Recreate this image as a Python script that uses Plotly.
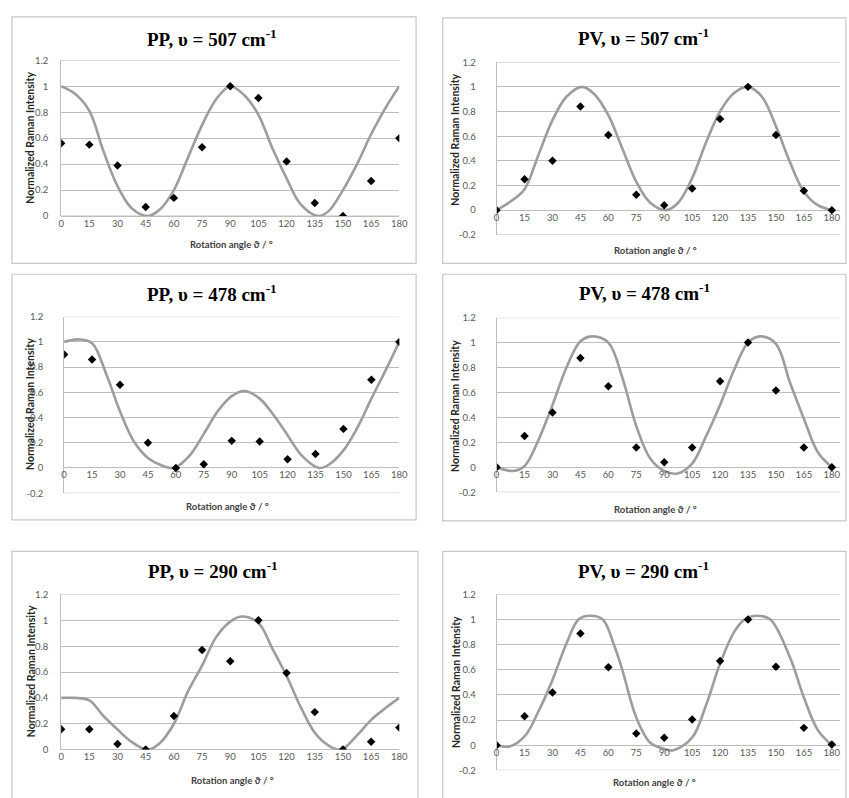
import plotly.graph_objects as go

W, H = 849, 798

# ---------------- data ----------------
angles = [0, 15, 30, 45, 60, 75, 90, 105, 120, 135, 150, 165, 180]
x_tick_labels = ["0", "15", "30", "45", "60", "75", "90", "105", "120", "135", "150", "165", "180"]
y_ticks_pos = [0, 0.2, 0.4, 0.6, 0.8, 1.0, 1.2]
y_labels_pos = ["0", "0.2", "0.4", "0.6", "0.8", "1", "1.2"]
y_ticks_neg = [-0.2, 0, 0.2, 0.4, 0.6, 0.8, 1.0, 1.2]
y_labels_neg = ["-0.2", "0", "0.2", "0.4", "0.6", "0.8", "1", "1.2"]

titles = ["PP, υ = 507 cm", "PV, υ = 507 cm", "PP, υ = 478 cm",
          "PV, υ = 478 cm", "PP, υ = 290 cm", "PV, υ = 290 cm"]

# measured points
pp507_pts = [0.56, 0.55, 0.39, 0.07, 0.14, 0.53, 1.00, 0.91, 0.42, 0.10, 0.00, 0.27, 0.60]
pv507_pts = [0.00, 0.25, 0.40, 0.84, 0.61, 0.125, 0.04, 0.175, 0.74, 1.00, 0.61, 0.157, 0.00]
pp478_pts = [0.90, 0.86, 0.66, 0.20, 0.00, 0.03, 0.215, 0.21, 0.07, 0.11, 0.31, 0.70, 1.00]
pv478_pts = [0.00, 0.25, 0.44, 0.876, 0.65, 0.158, 0.04, 0.158, 0.69, 1.00, 0.615, 0.158, 0.00]
pp290_pts = [0.158, 0.158, 0.043, 0.00, 0.26, 0.77, 0.684, 1.00, 0.593, 0.29, 0.00, 0.06, 0.17]
pv290_pts = [0.00, 0.23, 0.42, 0.89, 0.62, 0.093, 0.06, 0.204, 0.67, 1.00, 0.624, 0.138, 0.005]

# model curves
pp507_cx = [0, 7.5, 15, 22.5, 30, 37.5, 46, 52.5, 60, 67.5, 75, 82.5, 90, 97.5, 105, 112.5, 120, 127.5, 137, 142.5, 150, 157.5, 165, 172.5, 180]
pp507_cy = [1.0, 0.94, 0.81, 0.5, 0.23, 0.06, 0.0, 0.05, 0.2, 0.45, 0.7, 0.9, 1.0, 0.93, 0.78, 0.52, 0.29, 0.09, 0.0, 0.04, 0.2, 0.4, 0.63, 0.83, 1.0]

pv507_cx = [0, 7.5, 15, 22.5, 30, 37.5, 46, 52.5, 60, 67.5, 75, 82.5, 91, 97.5, 105, 112.5, 120, 127.5, 135, 142.5, 150, 157.5, 165, 172.5, 180]
pv507_cy = [0.0, 0.07, 0.17, 0.45, 0.73, 0.92, 1.0, 0.94, 0.77, 0.5, 0.23, 0.06, 0.0, 0.06, 0.26, 0.55, 0.8, 0.95, 1.0, 0.92, 0.68, 0.39, 0.15, 0.04, 0.0]

pp478_cx = [0, 7.5, 15, 22.5, 30, 37.5, 45, 52.5, 59, 67.5, 75, 82.5, 90, 97, 105, 112.5, 120, 127.5, 137, 142.5, 150, 157.5, 165, 172.5, 180]
pp478_cy = [1.0, 1.02, 0.99, 0.75, 0.45, 0.21, 0.08, 0.02, 0.0, 0.1, 0.27, 0.45, 0.57, 0.61, 0.55, 0.42, 0.26, 0.1, 0.0, 0.03, 0.14, 0.32, 0.55, 0.77, 1.0]

pv478_cx = [0, 9, 15, 22.5, 30, 37.5, 45, 51.5, 60, 67.5, 75, 82.5, 90, 97, 105, 112.5, 120, 127.5, 135, 141.5, 150, 157.5, 165, 172.5, 180]
pv478_cy = [0.0, -0.03, 0.01, 0.22, 0.5, 0.8, 1.01, 1.05, 1.0, 0.72, 0.33, 0.07, -0.03, -0.05, 0.03, 0.25, 0.5, 0.78, 1.0, 1.05, 0.99, 0.68, 0.39, 0.12, 0.0]

pp290_cx = [0, 7.5, 15, 22.5, 30, 37.5, 46, 52.5, 60, 67.5, 75, 82.5, 90, 96, 105, 112.5, 120, 127.5, 135, 142.5, 149, 157.5, 165, 172.5, 180]
pp290_cy = [0.40, 0.40, 0.38, 0.26, 0.155, 0.06, 0.0, 0.05, 0.2, 0.45, 0.65, 0.87, 0.99, 1.03, 0.98, 0.78, 0.57, 0.33, 0.13, 0.03, 0.0, 0.11, 0.23, 0.32, 0.40]

pv290_cx = [0, 7, 15, 22.5, 30, 37.5, 44, 50, 57, 63, 67.5, 75, 82.5, 90, 95, 105, 112.5, 120, 127.5, 133, 140, 147, 157.5, 165, 172.5, 180]
pv290_cy = [0.0, -0.01, 0.07, 0.27, 0.52, 0.81, 1.0, 1.03, 1.0, 0.8, 0.6, 0.22, 0.02, -0.03, -0.04, 0.06, 0.32, 0.65, 0.9, 1.0, 1.03, 1.0, 0.7, 0.38, 0.12, 0.0]

points = [pp507_pts, pv507_pts, pp478_pts, pv478_pts, pp290_pts, pv290_pts]
curves = [(pp507_cx, pp507_cy), (pv507_cx, pv507_cy), (pp478_cx, pp478_cy),
          (pv478_cx, pv478_cy), (pp290_cx, pp290_cy), (pv290_cx, pv290_cy)]

# ---------------- layout (window pixels) ----------------
# plot areas: x0, x1, ytop, ybot, px-per-degree, ymin
plots = [
    (59, 402, 55, 213, 343 / 180, 0.0),
    (500.7, 849, 57, 232, 340 / 180, -0.2),
    (62, 402, 315, 494, 340 / 180, -0.2),
    (500.7, 849, 316, 493, 340 / 180, -0.2),
    (59, 402, 596.7, 754, 343 / 180, 0.0),
    (500.7, 849, 596.7, 775, 340 / 180, -0.2),
]
boxes = [(9, 11, 419, 261), (446, 12, 855, 261), (9, 272, 419, 521),
         (446, 272, 855, 522), (9, 553, 421, 805), (446, 553, 855, 805)]
title_pos = [(212.5, 32.5), (650, 31.5), (212, 291.5), (650.5, 290.5), (213, 571.5), (650, 571.5)]
xtitle_pos = [(232, 242), (662, 248), (228, 508), (662, 511), (233, 785), (661, 787)]
ytitle_pos = [(28, 134), (459, 136), (28, 404), (459, 406), (28, 675), (459, 686)]


def px(x):
    return x / W


def py(y):
    return 1 - y / H


def clip(v):
    return max(0.0, min(1.0, v))


GRID = "#bdbdbd"
TICKC = "#595959"
TICKFONT = dict(family="Lato, 'Open Sans', sans-serif", size=9.5, color=TICKC)

fig = go.Figure()
layout = dict(width=W, height=H, margin=dict(l=0, r=0, t=0, b=0),
              paper_bgcolor="white", plot_bgcolor="white", showlegend=False)
shapes = []
annotations = []

for i in range(6):
    k = "" if i == 0 else str(i + 1)
    x0, x1, yt, yb, ppd, ymin = plots[i]
    x1v = min(x1, W)
    xmax = (x1v - x0) / ppd
    ymax = 1.2
    y0px = yb - (0 - ymin) / (ymax - ymin) * (yb - yt)
    neg = ymin < 0
    layout["xaxis" + k] = dict(
        domain=[clip(px(x0)), clip(px(x1v))], range=[0, xmax], anchor="free",
        position=py(y0px),
        tickvals=angles, ticktext=x_tick_labels, showgrid=False, zeroline=False,
        showline=False, ticks="", tickfont=TICKFONT, fixedrange=True,
        ticklabelstandoff=0, ticklabeloverflow="allow")
    layout["yaxis" + k] = dict(
        domain=[clip(py(yb)), clip(py(yt))], range=[ymin, ymax], anchor="x" + k,
        tickvals=y_ticks_neg if neg else y_ticks_pos,
        ticktext=y_labels_neg if neg else y_labels_pos,
        showgrid=True, gridcolor=GRID, gridwidth=1, zeroline=True, zerolinecolor=GRID,
        zerolinewidth=1, showline=True, linecolor=GRID, linewidth=1, ticks="",
        tickfont=TICKFONT, fixedrange=True,
        ticklabelstandoff=18 if neg else 10)
    cx, cy = curves[i]
    fig.add_trace(go.Scatter(x=cx, y=cy, mode="lines", xaxis="x" + k, yaxis="y" + k,
                             line=dict(color="#9d9d9d", width=2.6, shape="spline", smoothing=1.0),
                             hoverinfo="skip"))
    fig.add_trace(go.Scatter(x=angles, y=points[i], mode="markers", xaxis="x" + k, yaxis="y" + k,
                             marker=dict(symbol="diamond", size=6.5, color="black")))
    shapes.append(dict(type="line", xref="x" + k + " domain", yref="y" + k, x0=0, x1=1,
                       y0=1.2, y1=1.2, line=dict(color=GRID, width=1), layer="below"))
    shapes.append(dict(type="line", xref="x" + k + " domain", yref="y" + k, x0=0, x1=1,
                       y0=ymin, y1=ymin, line=dict(color=GRID, width=1), layer="below"))
    bx0, by0, bx1, by1 = boxes[i]
    shapes.append(dict(type="rect", xref="paper", yref="paper", x0=px(bx0), x1=px(bx1),
                       y0=py(by1), y1=py(by0), line=dict(color="#c8c8c8", width=1.2),
                       fillcolor="rgba(0,0,0,0)", layer="below"))
    tx, ty = title_pos[i]
    annotations.append(dict(x=px(tx), y=py(ty), xref="paper", yref="paper", showarrow=False,
                            xanchor="center", yanchor="middle",
                            text="<b>" + titles[i] + "<sup>-1</sup></b>",
                            font=dict(family="'Liberation Serif', 'Times New Roman', serif",
                                      size=19, color="black")))
    ax, ay = xtitle_pos[i]
    annotations.append(dict(x=px(ax), y=py(ay), xref="paper", yref="paper", showarrow=False,
                            xanchor="center", yanchor="middle",
                            text="<b>Rotation angle ϑ / °</b>",
                            font=dict(family="Lato, 'Open Sans', sans-serif", size=9.5, color="#404040")))
    yx, yy = ytitle_pos[i]
    annotations.append(dict(x=px(yx), y=py(yy), xref="paper", yref="paper", showarrow=False,
                            xanchor="center", yanchor="middle", textangle=-90,
                            text="<b>Normalized Raman Intensity</b>",
                            font=dict(family="Lato, 'Open Sans', sans-serif", size=10.5, color="#262626")))

layout["shapes"] = shapes
layout["annotations"] = annotations
fig.update_layout(**layout)
fig.write_html("out.html", config={"displayModeBar": False},
               post_script="document.body.style.margin='0';document.body.style.overflow='hidden';")
